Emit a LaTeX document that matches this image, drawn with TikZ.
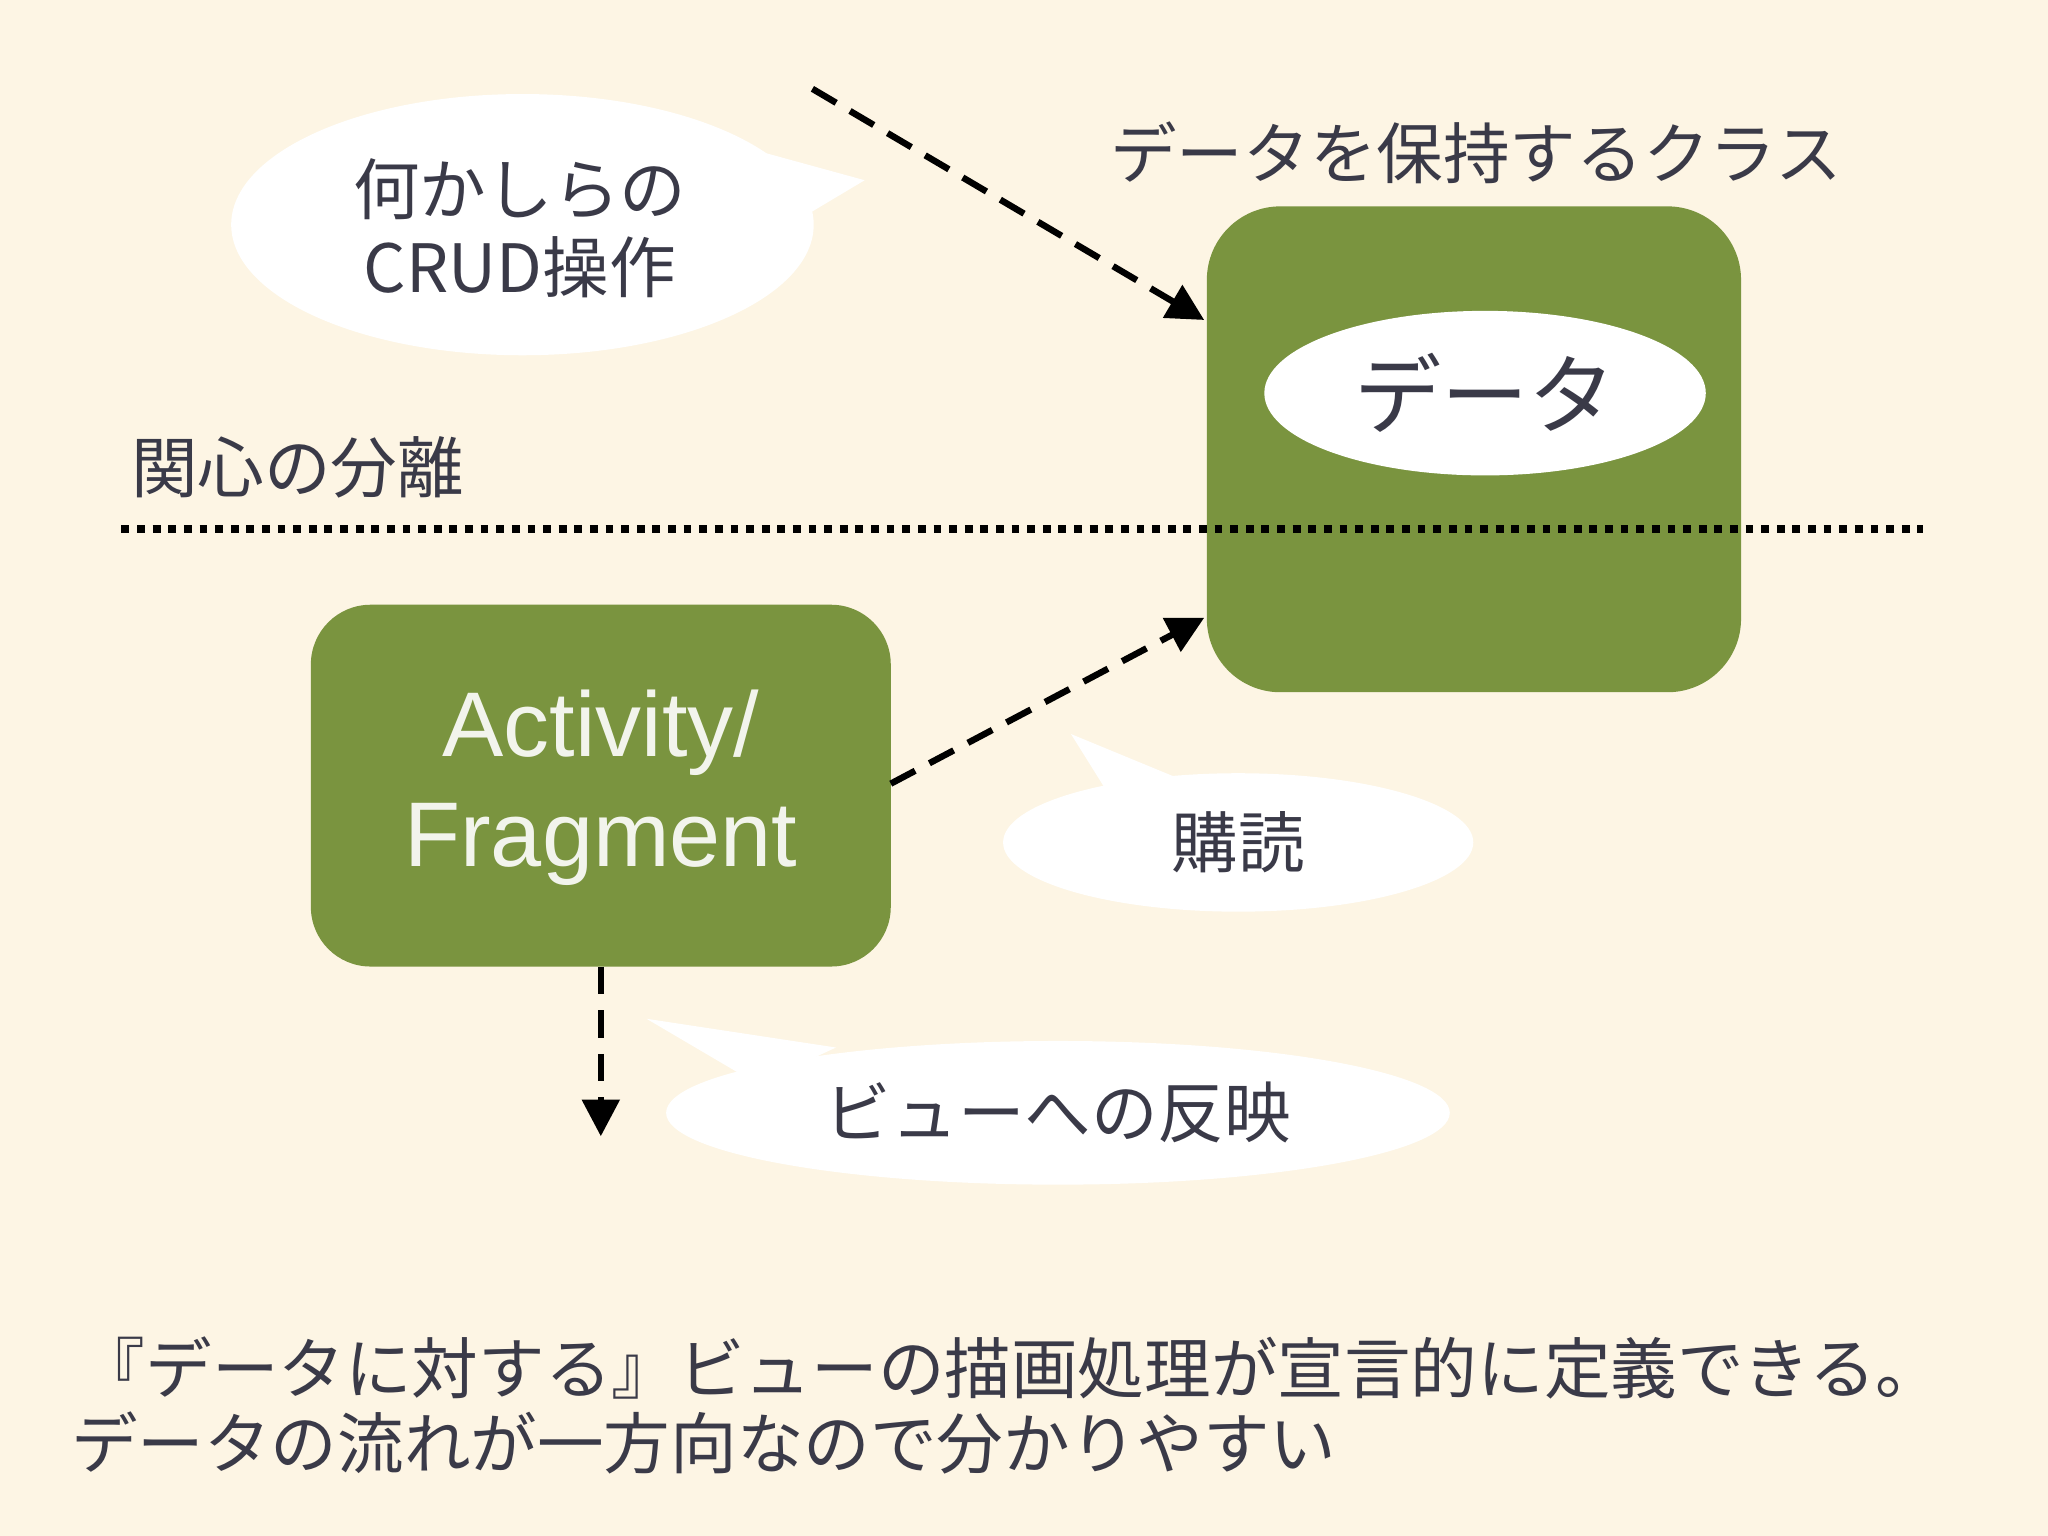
\documentclass[tikz,border=0pt]{standalone}
\usepackage{fontspec}
\setmainfont{Noto Sans CJK JP}
\newfontfamily\latin{Liberation Sans}
\usetikzlibrary{arrows.meta,shapes.geometric}
\definecolor{bg}{HTML}{FDF5E4}
\definecolor{grn}{HTML}{7A943F}
\definecolor{txt}{HTML}{3A3A48}
\tikzset{
 darr/.style={line width=1.4pt,dash pattern=on 6pt off 3.5pt,-{Triangle[length=8pt,width=8pt]}},
 gbox/.style={fill=grn,draw=none,rounded corners=16pt},
 bub/.style={fill=white,draw=none},
 lbl/.style={text=txt,font=\fontsize{14.5pt}{17pt}\selectfont,align=center}
}
\begin{document}
\begin{tikzpicture}[x=0.01cm,y=-0.01cm]
\fill[bg] (0,0) rectangle (1568,1176);
\useasboundingbox (0,0) rectangle (1568,1176);
% top-left bubble
\fill[bub] (400,172) ellipse [x radius=223,y radius=100];
\fill[bub] (560,110) -- (662,138) -- (600,175) -- cycle;
\node[lbl] (crud) at (398,175) {何かしらの\\CRUD操作};
% data class
\node[lbl,anchor=center] (title) at (1130,117) {データを保持するクラス};
\path[gbox] (924,158) rectangle (1333,530);
\node[draw=none,minimum width=409\pgflinewidth] (dbox) at (1128.5,344) {};
\coordinate (dboxIn1) at (922,245);
\coordinate (dboxIn2) at (922,473);
\fill[bub] (1137,301) ellipse [x radius=169,y radius=63];
\node[text=txt,font=\fontsize{19pt}{22pt}\selectfont] (data) at (1137,301) {データ};
\coordinate (src) at (622,68);
\draw[darr] (src) -- (dboxIn1);
% separation
\node[lbl,anchor=west] (sep) at (88,358) {関心の分離};
\coordinate (l1) at (93,405);
\coordinate (l2) at (1472,405);
\draw[line width=1.7pt,dash pattern=on 1.7pt off 1.7pt] (l1) -- (l2);
% activity
\path[gbox,rounded corners=13pt] (238,463) rectangle (682,740);
\node[text=white!90!grn,font=\latin\fontsize{20pt}{24pt}\selectfont,align=center] (act) at (460,603) {Activity/\\Fragment};
\coordinate (actR) at (682,600);
\coordinate (actB) at (460,740);
\coordinate (down) at (460,870);
\draw[darr] (actR) -- (dboxIn2);
\draw[darr] (actB) -- (down);
% subscribe bubble
\fill[bub] (948,645) ellipse [x radius=180,y radius=53];
\fill[bub] (820,562) -- (900,595) -- (850,610) -- cycle;
\node[lbl] (sub) at (948,645) {購読};
% view bubble
\fill[bub] (810,852) ellipse [x radius=300,y radius=55];
\fill[bub] (495,780) -- (640,802) -- (580,830) -- cycle;
\node[lbl] (view) at (810,852) {ビューへの反映};
% bottom text
\node[lbl,anchor=west,align=left] (b1) at (48,1047) {『データに対する』ビューの描画処理が宣言的に定義できる。};
\node[lbl,anchor=west,align=left] (b2) at (42,1105) {データの流れが一方向なので分かりやすい};
\end{tikzpicture}
\end{document}
